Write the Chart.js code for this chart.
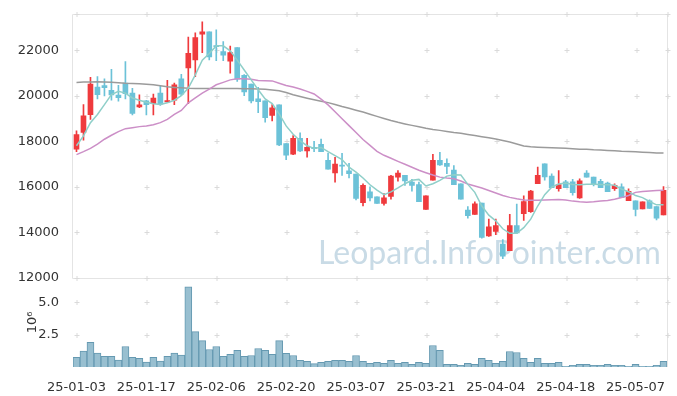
<!DOCTYPE html>
<html>
<head>
<meta charset="utf-8">
<script src="https://cdn.jsdelivr.net/npm/chart.js@4"></script>
<style>
  html, body { margin: 0; padding: 0; background: #fff; }
  #wrap { width: 677px; height: 396px; }
</style>
</head>
<body>
<div id="wrap"><canvas id="chart" width="677" height="396"></canvas></div>
<script>
// trading days (yy-mm-dd)
const dates = [
  "25-01-03","25-01-06","25-01-07","25-01-08","25-01-09","25-01-10","25-01-13","25-01-14","25-01-15","25-01-16",
  "25-01-17","25-01-20","25-01-21","25-01-22","25-01-23","25-01-24","25-01-31","25-02-03","25-02-04","25-02-05",
  "25-02-06","25-02-07","25-02-10","25-02-11","25-02-12","25-02-13","25-02-14","25-02-17","25-02-18","25-02-19",
  "25-02-20","25-02-21","25-02-24","25-02-25","25-02-26","25-02-27","25-02-28","25-03-04","25-03-05","25-03-06",
  "25-03-07","25-03-10","25-03-11","25-03-12","25-03-13","25-03-14","25-03-17","25-03-18","25-03-19","25-03-20",
  "25-03-21","25-03-24","25-03-25","25-03-26","25-03-27","25-03-28","25-03-31","25-04-01","25-04-02","25-04-03",
  "25-04-04","25-04-07","25-04-08","25-04-09","25-04-10","25-04-11","25-04-14","25-04-15","25-04-16","25-04-17",
  "25-04-18","25-04-21","25-04-22","25-04-23","25-04-24","25-04-25","25-04-28","25-04-29","25-04-30","25-05-02",
  "25-05-07","25-05-08","25-05-09","25-05-12","25-05-13"
];

const opens = [
  17650,18380,19170,20380,20440,20240,20030,20550,20120,19510,
  19770,19650,20120,19730,19800,20740,21220,21570,22700,22810,
  22200,21940,21520,22120,20900,20510,19860,19770,19130,19600,
  17900,17430,18120,17570,17730,17860,17160,16600,16920,16700,
  16550,15300,15770,15550,15260,15570,16420,16500,16200,16090,
  15000,16290,17160,17030,16730,16120,14970,14780,15280,13840,
  14030,13480,13190,14290,14810,14900,16130,17000,16470,15910,
  16210,16210,15510,16600,16420,16240,16160,15910,15990,15380,
  15380,15020,15380,15120,14760
];
const highs = [
  18450,19610,20810,20840,20740,21160,20450,21500,20320,20040,
  19800,20070,20410,20670,20550,20940,22580,22760,23250,22810,
  22900,22380,22180,22120,20930,20510,20370,19770,19610,19600,
  17900,18250,18370,18130,17990,18090,17480,17290,17470,17030,
  16550,16130,15990,15550,15700,16500,16710,16500,16320,16200,
  15600,17420,17510,17220,16930,16120,15120,15330,15280,14580,
  14580,13670,14780,15240,15600,15840,16860,17000,16570,16710,
  16280,16320,16350,16710,16420,16320,16200,16120,16130,15910,
  15380,15330,15420,15120,16000
];
const lows = [
  17540,18040,18960,19860,19990,19800,19760,19860,19160,19470,
  19150,19150,19570,19710,19600,20000,19650,20840,21890,21570,
  21540,21540,20990,20630,20000,19680,19250,18840,18890,17800,
  17190,17410,17540,17300,17540,17540,16770,16200,16500,16380,
  15420,15150,15370,15260,15190,15450,16240,16060,15800,15340,
  15000,16290,16930,16570,16090,15450,14610,14780,13740,13810,
  13890,12830,13190,13930,14520,14870,16130,16290,15960,15800,
  15960,15630,15480,16420,16030,15960,15780,15830,15520,15380,
  14710,15020,15040,14540,14760
];
const closes = [
  18290,19120,20510,20040,20350,20030,19910,20090,19220,19600,
  19610,19900,19630,19780,20480,20070,21860,22550,22810,21700,
  22150,21780,21890,20730,20170,19770,19740,19030,19470,17840,
  17390,18120,17570,17730,17670,17540,16770,16990,16900,16570,
  15480,16060,15510,15260,15510,16470,16600,16250,16060,15340,
  15600,17160,16960,16890,16090,15450,14730,15250,13770,14230,
  14290,12940,14290,13970,15340,15810,16500,16430,15960,16090,
  15960,15740,16260,16420,16120,15960,15780,16060,15520,15800,
  15000,15330,15040,14610,15840
];

// moving averages
const ma5 = [
  17800,18235,18815,19175,19610,20045,20190,20115,19900,19800,
  19715,19650,19610,19685,19800,20000,20335,20915,21565,21855,
  22190,22190,21975,21565,21130,20695,20260,19855,19650,19200,
  18670,18305,18015,17800,17685,17725,17540,17365,17190,16855,
  16640,16380,16085,15845,15650,15770,15945,16130,16280,16320,
  16030,16130,16280,16465,16520,16510,16100,15750,15150,14750,
  14500,14150,13950,13950,14200,14570,15150,15650,15980,16120,
  16160,16100,16080,16110,16110,16100,16090,16060,15890,15780,
  15610,15520,15350,15200,15200
];
const ma20 = [
  17410,17540,17680,17870,18085,18260,18420,18550,18595,18640,
  18670,18725,18815,18955,19175,19350,19685,19900,20115,20290,
  20480,20585,20695,20740,20740,20725,20670,20660,20650,20550,
  20450,20380,20290,20190,20075,19850,19595,19290,18985,18685,
  18380,18075,17815,17550,17380,17250,17115,16985,16855,16725,
  16615,16510,16420,16380,16350,16250,16115,16030,15945,15835,
  15725,15615,15530,15465,15410,15400,15400,15410,15420,15435,
  15410,15365,15335,15320,15335,15365,15390,15450,15520,15615,
  15750,15790,15815,15835,15845
];
const ma120 = [
  20580,20600,20600,20610,20600,20590,20570,20550,20540,20520,
  20500,20480,20435,20390,20365,20345,20325,20320,20320,20320,
  20320,20320,20320,20320,20310,20300,20290,20280,20255,20220,
  20140,20040,19965,19890,19820,19755,19695,19615,19525,19445,
  19360,19280,19185,19090,19000,18910,18830,18760,18695,18630,
  18565,18515,18475,18430,18385,18350,18295,18245,18195,18150,
  18095,18030,17965,17880,17790,17750,17735,17720,17710,17695,
  17685,17670,17650,17640,17620,17610,17595,17580,17560,17550,
  17535,17515,17500,17485,17475
];

// volume, millions of shares
const volumes = [
  0.74,1.22,1.91,1.07,0.82,0.82,0.54,1.58,0.74,0.66,
  0.38,0.74,0.46,0.82,1.07,0.92,6.19,2.73,2.04,1.35,
  1.58,0.82,0.97,1.28,0.82,0.89,1.43,1.28,0.97,2.04,
  1.05,0.89,0.51,0.43,0.26,0.36,0.43,0.51,0.51,0.43,
  0.89,0.43,0.28,0.36,0.28,0.51,0.28,0.36,0.21,0.36,
  0.28,1.66,1.28,0.21,0.21,0.13,0.28,0.21,0.66,0.51,
  0.28,0.43,1.2,1.12,0.66,0.36,0.66,0.28,0.28,0.36,
  0.05,0.13,0.21,0.21,0.13,0.13,0.21,0.13,0.13,0.05,
  0.21,0.05,0.05,0.13,0.43
];

const priceTicks = [12000, 14000, 16000, 18000, 20000, 22000];
const volumeTicks = [2.5, 5.0];

const UP = '#ef3a3d';
const DOWN = '#6cc2d8';
const candleColors = opens.map((o, i) => closes[i] >= o ? UP : DOWN);
const FONT = '"DejaVu Sans", sans-serif';

// faint frame, cross marks where grid lines would meet, watermark
const gridMarks = {
  id: 'gridMarks',
  beforeDatasetsDraw(chart) {
    const { ctx, chartArea: a, scales } = chart;
    ctx.save();
    ctx.font = '32px Lato, sans-serif';
    ctx.fillStyle = '#c9dbe6';
    ctx.textBaseline = 'alphabetic';
    ctx.fillText('Leopard.InfoPointer.com', 318, 264);

    const sep = Math.round(scales.y.bottom) + 0.5;
    ctx.strokeStyle = '#e4e4e4';
    ctx.lineWidth = 1;
    ctx.beginPath();
    ctx.moveTo(Math.round(a.left) - 0.5, Math.round(a.top) + 0.5);
    ctx.lineTo(Math.round(a.right) + 0.5, Math.round(a.top) + 0.5);
    ctx.lineTo(Math.round(a.right) + 0.5, Math.round(a.bottom));
    ctx.moveTo(Math.round(a.left) - 0.5, Math.round(a.top) + 0.5);
    ctx.lineTo(Math.round(a.left) - 0.5, sep);
    ctx.lineTo(Math.round(a.right) + 0.5, sep);
    ctx.stroke();

    const xs = [];
    dates.forEach((d, i) => { if (i % 10 === 0) xs.push(scales.x.getPixelForValue(i)); });
    xs.push(a.right);
    const ys = [a.top];
    priceTicks.forEach(v => ys.push(scales.y.getPixelForValue(v)));
    volumeTicks.forEach(v => ys.push(scales.yv.getPixelForValue(v)));
    ctx.strokeStyle = '#dadada';
    ctx.beginPath();
    xs.forEach(x => ys.forEach(y => {
      const px = Math.round(x) + 0.5, py = Math.round(y) + 0.5;
      ctx.moveTo(px - 2, py); ctx.lineTo(px + 3, py);
      ctx.moveTo(px + 0.5, py - 2.5); ctx.lineTo(px + 0.5, py + 2.5);
    }));
    ctx.stroke();
    ctx.restore();
  }
};

new Chart(document.getElementById('chart'), {
  type: 'bar',
  plugins: [gridMarks],
  data: {
    labels: dates,
    datasets: [
      { type: 'line', data: ma5, borderColor: '#8fcfc9', borderWidth: 1.5, pointRadius: 0, yAxisID: 'y', order: 0 },
      { type: 'line', data: ma20, borderColor: '#cc8fc7', borderWidth: 1.5, pointRadius: 0, yAxisID: 'y', order: 0 },
      { type: 'line', data: ma120, borderColor: '#9b9b9b', borderWidth: 1.5, pointRadius: 0, yAxisID: 'y', order: 0 },
      { data: opens.map((o, i) => [o, closes[i]]), backgroundColor: candleColors, barThickness: 5,
        minBarLength: 1, grouped: false, yAxisID: 'y', order: 1 },
      { data: lows.map((l, i) => [l, highs[i]]), backgroundColor: candleColors, barThickness: 1,
        grouped: false, yAxisID: 'y', order: 2 },
      { data: volumes, backgroundColor: '#98bfd0', borderColor: '#6599b1', borderWidth: 1,
        barPercentage: 1, categoryPercentage: 1, grouped: false, yAxisID: 'yv', order: 3 }
    ]
  },
  options: {
    responsive: false,
    animation: false,
    layout: { padding: { top: 10, right: 10, left: 0, bottom: 0 } },
    plugins: { legend: { display: false }, tooltip: { enabled: false } },
    scales: {
      x: {
        grid: { display: false },
        border: { display: false },
        afterFit: s => { s.height = 29; },
        ticks: {
          autoSkip: false, maxRotation: 0, minRotation: 0, padding: 5,
          color: '#333', font: { family: FONT, size: 13 },
          callback: (v, i) => i % 10 === 0 ? dates[i] : ''
        }
      },
      y: {
        stack: 'panel', stackWeight: 266.7, weight: 2,
        min: 12000, max: 23600,
        grid: { display: false },
        border: { display: false },
        afterFit: s => { s.width = 73; },
        afterBuildTicks: s => { s.ticks = priceTicks.map(value => ({ value })); },
        ticks: { padding: 6, color: '#333', font: { family: FONT, size: 13 }, callback: v => String(v) }
      },
      yv: {
        stack: 'panel', stackWeight: 90.3, weight: 1,
        min: 0, max: 6.9,
        grid: { display: false },
        border: { display: false },
        afterFit: s => { s.width = 73; },
        afterBuildTicks: s => { s.ticks = volumeTicks.map(value => ({ value })); },
        title: { display: true, text: '10⁶', color: '#333', font: { family: FONT, size: 13 }, padding: { top: 25, bottom: 0 } },
        ticks: { padding: 6, color: '#333', font: { family: FONT, size: 13 }, callback: v => v.toFixed(1) }
      }
    }
  }
});
</script>
</body>
</html>
